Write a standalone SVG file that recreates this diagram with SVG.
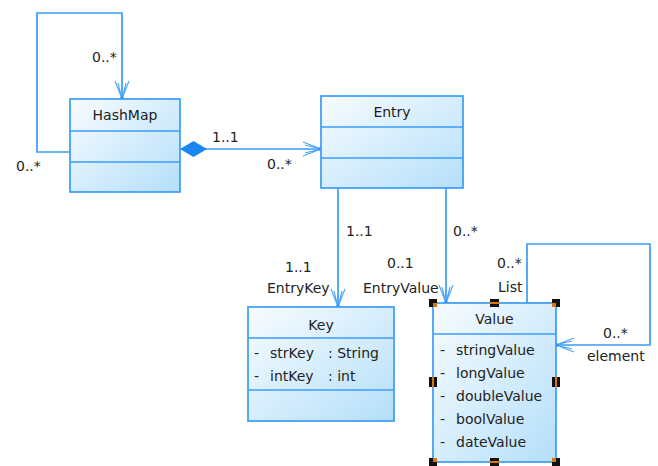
<svg xmlns="http://www.w3.org/2000/svg" width="658" height="466" viewBox="0 0 658 466">
<defs>
<linearGradient id="cls" x1="0" y1="0" x2="1" y2="1">
<stop offset="0" stop-color="#f8fcff"/>
<stop offset="1" stop-color="#b4dffa"/>
</linearGradient>
<marker id="open" viewBox="-20 -10 22 20" markerWidth="22" markerHeight="20" refX="0" refY="0" markerUnits="userSpaceOnUse" orient="auto">
<path d="M-18,-7 L0,0 L-18,7 M-16,-4 L0,0 L-16,4" fill="none" stroke="#4ea6f6" stroke-width="1.1"/>
<circle cx="-1" cy="0" r="1.7" fill="#2a8ff0"/>
</marker>
<marker id="diamond" viewBox="0 -8 28 16" markerWidth="28" markerHeight="16" refX="0" refY="0" markerUnits="userSpaceOnUse" orient="auto">
<polygon points="0,0 13.5,-8 27,0 13.5,8" fill="#1a86f2"/>
</marker>
</defs>
<style>
.box{fill:url(#cls);stroke:#3a9cf8;stroke-width:1.7}
.div{stroke:#3a9cf8;stroke-width:1.7}
.edge{fill:none;stroke:#3a9cf8;stroke-width:1.7}
text{font-family:"DejaVu Sans","Liberation Sans",sans-serif;font-size:14px;fill:#222}
.t{text-anchor:middle}
.h{fill:#111}
.o{fill:#d9770e}
</style>

<g id="connectors">
<path class="edge" d="M70,152 H37 V13 H122 V99" marker-end="url(#open)"/>
<path class="edge" d="M180,149 H321" marker-start="url(#diamond)" marker-end="url(#open)"/>
<path class="edge" d="M338,188 V307" marker-end="url(#open)"/>
<path class="edge" d="M446,188 V303" marker-end="url(#open)"/>
<path class="edge" d="M527,303 V244 H650 V345 H556" marker-end="url(#open)"/>
<text x="92" y="62">0..*</text>
<text x="16" y="171">0..*</text>
<text x="212" y="142">1..1</text>
<text x="267" y="169">0..*</text>
<text x="346" y="236">1..1</text>
<text x="285" y="272">1..1</text>
<text x="267" y="293">EntryKey</text>
<text x="453" y="236">0..*</text>
<text x="387" y="268">0..1</text>
<text x="363" y="293">EntryValue</text>
<text x="497" y="268">0..*</text>
<text x="498" y="292">List</text>
<text x="603" y="338">0..*</text>
<text x="587" y="361">element</text>
</g>

<g id="HashMap">
<rect class="box" x="70" y="99" width="110" height="93"/>
<line class="div" x1="70" y1="131" x2="180" y2="131"/>
<line class="div" x1="70" y1="162" x2="180" y2="162"/>
<text class="t" x="125" y="120">HashMap</text>
</g>

<g id="Entry">
<rect class="box" x="321" y="96" width="142" height="92"/>
<line class="div" x1="321" y1="127" x2="463" y2="127"/>
<line class="div" x1="321" y1="158" x2="463" y2="158"/>
<text class="t" x="392" y="117">Entry</text>
</g>

<g id="Key">
<rect class="box" x="248" y="307" width="146" height="114"/>
<line class="div" x1="248" y1="338" x2="394" y2="338"/>
<line class="div" x1="248" y1="390" x2="394" y2="390"/>
<text class="t" x="321" y="330">Key</text>
<text x="254" y="358">-</text>
<text x="270" y="358">strKey</text>
<text x="328" y="358">: String</text>
<text x="254" y="381">-</text>
<text x="270" y="381">intKey</text>
<text x="328" y="381">: int</text>
</g>

<g id="Value">
<rect class="box" x="433" y="303" width="123" height="159"/>
<line class="div" x1="433" y1="334" x2="556" y2="334"/>
<text class="t" x="494.5" y="324">Value</text>
<text x="440" y="355">-</text>
<text x="456" y="355">stringValue</text>
<text x="440" y="378">-</text>
<text x="456" y="378">longValue</text>
<text x="440" y="401">-</text>
<text x="456" y="401">doubleValue</text>
<text x="440" y="424">-</text>
<text x="456" y="424">boolValue</text>
<text x="440" y="447">-</text>
<text x="456" y="447">dateValue</text>
<g id="handles">
<rect class="h" x="429" y="299" width="8" height="8"/>
<rect class="o" x="433" y="303" width="4" height="4"/>
<rect class="h" x="490" y="299" width="9" height="8"/>
<rect class="o" x="490" y="302" width="9" height="2"/>
<rect class="h" x="552" y="299" width="8" height="8"/>
<rect class="o" x="552" y="303" width="4" height="4"/>
<rect class="h" x="429" y="377" width="8" height="10"/>
<rect class="o" x="432" y="377" width="2" height="10"/>
<rect class="h" x="552" y="377" width="8" height="10"/>
<rect class="o" x="555" y="377" width="2" height="10"/>
<rect class="h" x="429" y="458" width="8" height="8"/>
<rect class="o" x="433" y="458" width="4" height="4"/>
<rect class="h" x="490" y="458" width="9" height="8"/>
<rect class="o" x="490" y="461" width="9" height="2"/>
<rect class="h" x="552" y="458" width="8" height="8"/>
<rect class="o" x="552" y="458" width="4" height="4"/>
</g>
</g>
</svg>
